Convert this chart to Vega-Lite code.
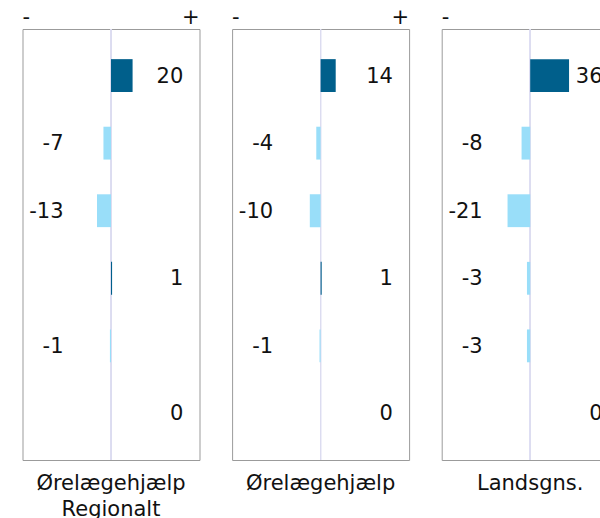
{
  "$schema": "https://vega.github.io/schema/vega-lite/v6.json",
  "padding": {"left": 21.5, "top": 0, "right": 0, "bottom": 0},
  "spacing": 30.6,
  "config": {
    "font": "DejaVu Sans",
    "view": {"stroke": "#9b9b9b", "strokeWidth": 1},
    "title": {"font": "DejaVu Sans", "fontSize": 21, "fontWeight": "normal", "color": "#111111"},
    "text": {"font": "DejaVu Sans", "fontSize": 21, "color": "#111111"}
  },
  "datasets": {
    "d": [
      {"panel": "A", "item": 1, "value": 20},
      {"panel": "A", "item": 2, "value": -7},
      {"panel": "A", "item": 3, "value": -13},
      {"panel": "A", "item": 4, "value": 1},
      {"panel": "A", "item": 5, "value": -1},
      {"panel": "A", "item": 6, "value": 0},
      {"panel": "B", "item": 1, "value": 14},
      {"panel": "B", "item": 2, "value": -4},
      {"panel": "B", "item": 3, "value": -10},
      {"panel": "B", "item": 4, "value": 1},
      {"panel": "B", "item": 5, "value": -1},
      {"panel": "B", "item": 6, "value": 0},
      {"panel": "C", "item": 1, "value": 36},
      {"panel": "C", "item": 2, "value": -8},
      {"panel": "C", "item": 3, "value": -21},
      {"panel": "C", "item": 4, "value": -3},
      {"panel": "C", "item": 5, "value": -3},
      {"panel": "C", "item": 6, "value": 0}
    ],
    "signs": [{"sign": "-"}, {"sign": "+"}]
  },
  "hconcat": [
    {
      "spacing": 0,
      "vconcat": [
        {
          "width": 177, "height": 27, "view": {"stroke": null},
          "data": {"name": "signs"},
          "layer": [
            {"transform": [{"filter": "datum.sign === '-'"}], "mark": {"type": "text", "align": "left", "baseline": "middle", "dy": 4.5},
             "encoding": {"x": {"datum": -82, "type": "quantitative", "scale": {"domain": [-82, 82], "nice": false}, "axis": null}, "text": {"field": "sign", "type": "nominal"}}},
            {"transform": [{"filter": "datum.sign === '+'"}], "mark": {"type": "text", "align": "right", "baseline": "middle", "dy": 4.5},
             "encoding": {"x": {"datum": 82, "type": "quantitative", "axis": null}, "text": {"field": "sign", "type": "nominal"}}}
          ]
        },
        {
          "width": 177, "height": 431,
          "data": {"name": "d"},
          "transform": [{"filter": "datum.panel === 'A'"}],
          "title": {"text": ["Ørelægehjælp\u00a0", "Regionalt"], "orient": "bottom", "anchor": "middle", "frame": "group", "offset": 12, "lineHeight": 26.5},
          "layer": [
            {"mark": {"type": "rule", "color": "#dcdcf0", "strokeWidth": 1},
             "encoding": {"x": {"datum": 0, "type": "quantitative", "scale": {"domain": [-82, 82], "nice": false}, "axis": null}}},
            {"mark": {"type": "bar"},
             "encoding": {
               "y": {"field": "item", "type": "ordinal", "axis": null, "scale": {"paddingInner": 0.514, "paddingOuter": 0.446}},
               "x": {"field": "value", "type": "quantitative", "axis": null},
               "x2": {"datum": 0},
               "color": {"condition": {"test": "datum.value < 0", "value": "#99def9"}, "value": "#005f8b"}
             }},
            {"transform": [{"filter": "datum.value < 0"}], "mark": {"type": "text", "align": "right", "baseline": "middle", "dy": 1},
             "encoding": {"y": {"field": "item", "type": "ordinal", "axis": null}, "x": {"datum": -44, "type": "quantitative", "axis": null}, "text": {"field": "value", "type": "nominal"}}},
            {"transform": [{"filter": "datum.value >= 0"}], "mark": {"type": "text", "align": "right", "baseline": "middle", "dy": 1},
             "encoding": {"y": {"field": "item", "type": "ordinal", "axis": null}, "x": {"datum": 67, "type": "quantitative", "axis": null}, "text": {"field": "value", "type": "nominal"}}}
          ]
        }
      ]
    },
    {
      "spacing": 0,
      "vconcat": [
        {
          "width": 177, "height": 27, "view": {"stroke": null},
          "data": {"name": "signs"},
          "layer": [
            {"transform": [{"filter": "datum.sign === '-'"}], "mark": {"type": "text", "align": "left", "baseline": "middle", "dy": 4.5},
             "encoding": {"x": {"datum": -82, "type": "quantitative", "scale": {"domain": [-82, 82], "nice": false}, "axis": null}, "text": {"field": "sign", "type": "nominal"}}},
            {"transform": [{"filter": "datum.sign === '+'"}], "mark": {"type": "text", "align": "right", "baseline": "middle", "dy": 4.5},
             "encoding": {"x": {"datum": 82, "type": "quantitative", "axis": null}, "text": {"field": "sign", "type": "nominal"}}}
          ]
        },
        {
          "width": 177, "height": 431,
          "data": {"name": "d"},
          "transform": [{"filter": "datum.panel === 'B'"}],
          "title": {"text": ["Ørelægehjælp"], "orient": "bottom", "anchor": "middle", "frame": "group", "offset": 12, "lineHeight": 26.5},
          "layer": [
            {"mark": {"type": "rule", "color": "#dcdcf0", "strokeWidth": 1},
             "encoding": {"x": {"datum": 0, "type": "quantitative", "scale": {"domain": [-82, 82], "nice": false}, "axis": null}}},
            {"mark": {"type": "bar"},
             "encoding": {
               "y": {"field": "item", "type": "ordinal", "axis": null, "scale": {"paddingInner": 0.514, "paddingOuter": 0.446}},
               "x": {"field": "value", "type": "quantitative", "axis": null},
               "x2": {"datum": 0},
               "color": {"condition": {"test": "datum.value < 0", "value": "#99def9"}, "value": "#005f8b"}
             }},
            {"transform": [{"filter": "datum.value < 0"}], "mark": {"type": "text", "align": "right", "baseline": "middle", "dy": 1},
             "encoding": {"y": {"field": "item", "type": "ordinal", "axis": null}, "x": {"datum": -44, "type": "quantitative", "axis": null}, "text": {"field": "value", "type": "nominal"}}},
            {"transform": [{"filter": "datum.value >= 0"}], "mark": {"type": "text", "align": "right", "baseline": "middle", "dy": 1},
             "encoding": {"y": {"field": "item", "type": "ordinal", "axis": null}, "x": {"datum": 67, "type": "quantitative", "axis": null}, "text": {"field": "value", "type": "nominal"}}}
          ]
        }
      ]
    },
    {
      "spacing": 0,
      "vconcat": [
        {
          "width": 177, "height": 27, "view": {"stroke": null},
          "data": {"name": "signs"},
          "layer": [
            {"transform": [{"filter": "datum.sign === '-'"}], "mark": {"type": "text", "align": "left", "baseline": "middle", "dy": 4.5},
             "encoding": {"x": {"datum": -82, "type": "quantitative", "scale": {"domain": [-82, 82], "nice": false}, "axis": null}, "text": {"field": "sign", "type": "nominal"}}},
            {"transform": [{"filter": "datum.sign === '+'"}], "mark": {"type": "text", "align": "right", "baseline": "middle", "dy": 4.5},
             "encoding": {"x": {"datum": 82, "type": "quantitative", "axis": null}, "text": {"field": "sign", "type": "nominal"}}}
          ]
        },
        {
          "width": 177, "height": 431,
          "data": {"name": "d"},
          "transform": [{"filter": "datum.panel === 'C'"}],
          "title": {"text": ["Landsgns."], "orient": "bottom", "anchor": "middle", "frame": "group", "offset": 12, "lineHeight": 26.5},
          "layer": [
            {"mark": {"type": "rule", "color": "#dcdcf0", "strokeWidth": 1},
             "encoding": {"x": {"datum": 0, "type": "quantitative", "scale": {"domain": [-82, 82], "nice": false}, "axis": null}}},
            {"mark": {"type": "bar"},
             "encoding": {
               "y": {"field": "item", "type": "ordinal", "axis": null, "scale": {"paddingInner": 0.514, "paddingOuter": 0.446}},
               "x": {"field": "value", "type": "quantitative", "axis": null},
               "x2": {"datum": 0},
               "color": {"condition": {"test": "datum.value < 0", "value": "#99def9"}, "value": "#005f8b"}
             }},
            {"transform": [{"filter": "datum.value < 0"}], "mark": {"type": "text", "align": "right", "baseline": "middle", "dy": 1},
             "encoding": {"y": {"field": "item", "type": "ordinal", "axis": null}, "x": {"datum": -44, "type": "quantitative", "axis": null}, "text": {"field": "value", "type": "nominal"}}},
            {"transform": [{"filter": "datum.value >= 0"}], "mark": {"type": "text", "align": "right", "baseline": "middle", "dy": 1},
             "encoding": {"y": {"field": "item", "type": "ordinal", "axis": null}, "x": {"datum": 67, "type": "quantitative", "axis": null}, "text": {"field": "value", "type": "nominal"}}}
          ]
        }
      ]
    }
  ]
}
